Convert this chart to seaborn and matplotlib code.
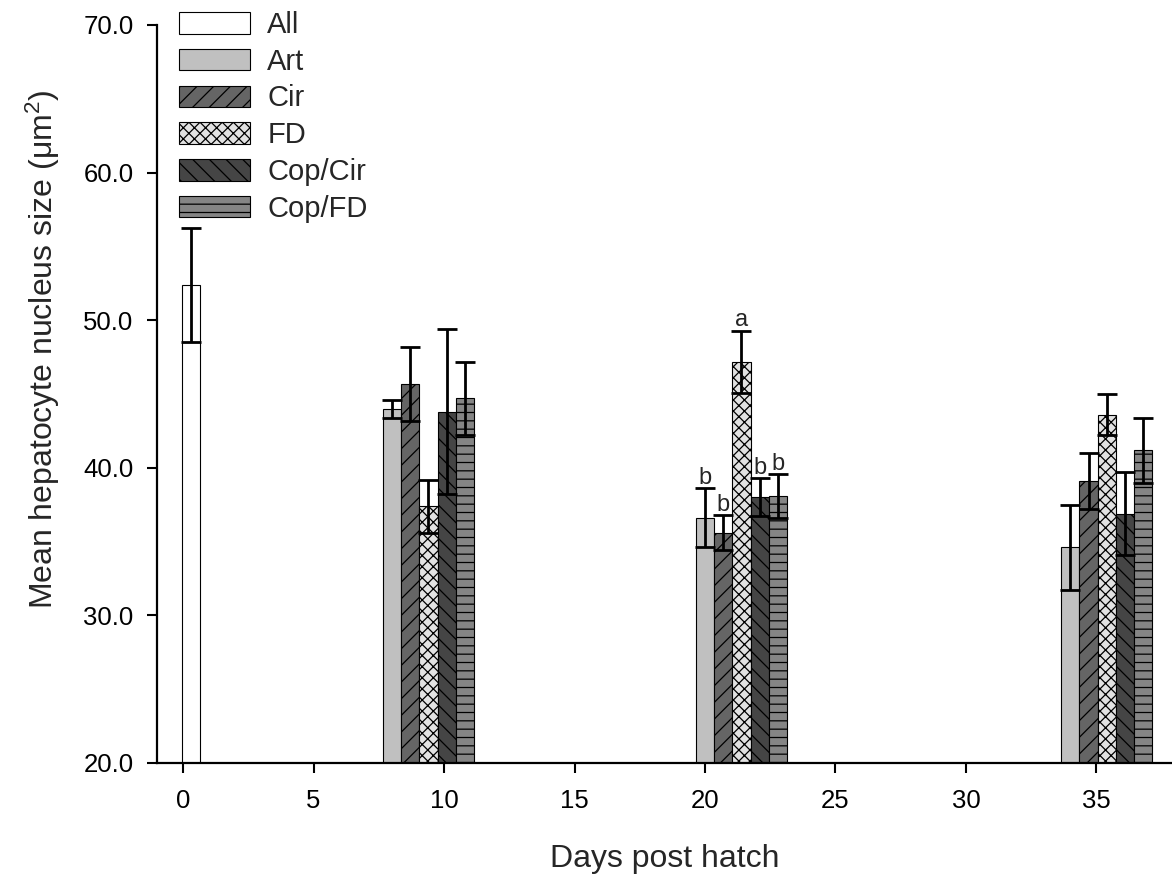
import numpy as np
import pandas as pd
import matplotlib
matplotlib.use("Agg")
import matplotlib.pyplot as plt
from matplotlib.patches import Patch
import seaborn as sns

# data, mean +/- SE
diets = ["All", "Art", "Cir", "FD", "Cop/Cir", "Cop/FD"]
group_days = [8, 20, 34]          # first bar of each sampling group
all_day = 0.3
all_mean = 52.4
all_se = 3.85
art_mean = [44.0, 36.6, 34.6]
art_se = [0.6, 2.0, 2.9]
cir_mean = [45.7, 35.6, 39.1]
cir_se = [2.5, 1.2, 1.9]
fd_mean = [37.4, 47.2, 43.6]
fd_se = [1.8, 2.1, 1.4]
copcir_mean = [43.8, 38.0, 36.9]
copcir_se = [5.6, 1.3, 2.8]
copfd_mean = [44.7, 38.1, 41.2]
copfd_se = [2.45, 1.5, 2.2]
day20_letters = ["b", "b", "a", "b", "b"]

colors = {"All": "white", "Art": "#c0c0c0", "Cir": "#656565", "FD": "#e2e2e2",
          "Cop/Cir": "#454545", "Cop/FD": "#858585"}
hatches = {"All": "", "Art": "", "Cir": "//", "FD": "xxx", "Cop/Cir": "\\\\", "Cop/FD": "--"}

step = 0.7
rows = [{"day": all_day, "diet": "All", "mean": all_mean, "se": all_se}]
series = {"Art": (art_mean, art_se), "Cir": (cir_mean, cir_se), "FD": (fd_mean, fd_se),
          "Cop/Cir": (copcir_mean, copcir_se), "Cop/FD": (copfd_mean, copfd_se)}
for k, d in enumerate(diets[1:]):
    m, s = series[d]
    for g, gd in enumerate(group_days):
        rows.append({"day": round(gd + k * step, 2), "diet": d, "mean": m[g], "se": s[g]})
df = pd.DataFrame(rows)

sns.set_style("ticks")
plt.rcParams["font.family"] = ["Liberation Sans", "DejaVu Sans"]
plt.rcParams["mathtext.fontset"] = "custom"
plt.rcParams["mathtext.rm"] = "Liberation Sans"
plt.rcParams["mathtext.it"] = "Liberation Sans:italic"
plt.rcParams["hatch.linewidth"] = 0.9
plt.rcParams["hatch.color"] = "black"

fig = plt.figure(figsize=(11.72, 8.77), dpi=100)
ax = fig.add_axes([0.134, 0.130, 0.866, 0.8415])

sns.barplot(data=df, x="day", y="mean", hue="diet", hue_order=diets, palette=colors,
            native_scale=True, dodge=False, width=1.0, errorbar=None,
            edgecolor="black", linewidth=0.8, legend=False, ax=ax)

for cont, d in zip(ax.containers, diets):
    for bar in cont:
        bar.set_hatch(hatches[d])

ax.errorbar(df["day"], df["mean"], yerr=df["se"], fmt="none", ecolor="black",
            elinewidth=2, capsize=7, capthick=2, zorder=5)

# significance letters at day 20
d20 = df[df["day"].between(19.5, 23.5)].sort_values("day")
for (_, r), lab in zip(d20.iterrows(), day20_letters):
    ax.annotate(lab, (r["day"], r["mean"] + r["se"]), xytext=(0, 3),
                textcoords="offset points", ha="center", va="baseline", fontsize=17)

ax.set_xlim(-1, 37.9)
ax.set_ylim(20, 70)
ax.set_xticks(np.arange(0, 40, 5))
ax.set_yticks(np.arange(20, 71, 10))
ax.set_yticklabels([f"{v:.1f}" for v in np.arange(20, 71, 10)])
ax.tick_params(axis="both", direction="out", length=7, width=1.5, labelsize=18.5, pad=10,
               color="black", labelcolor="black")
ax.tick_params(axis="x", pad=12)
for sp in ["top", "right"]:
    ax.spines[sp].set_visible(False)
for sp in ["left", "bottom"]:
    ax.spines[sp].set_linewidth(1.6)
    ax.spines[sp].set_color("black")

ax.set_xlabel("Days post hatch", fontsize=23, labelpad=22)
ax.set_ylabel("Mean hepatocyte nucleus size (μm$^{2}$)", fontsize=23)
ax.yaxis.set_label_coords(-0.094, 0.56)

handles = [Patch(facecolor=colors[d], edgecolor="black", hatch=hatches[d], linewidth=0.8)
           for d in diets]
ax.legend(handles, diets, loc="upper left", bbox_to_anchor=(179 / 1172, 1 - 11 / 877),
          bbox_transform=fig.transFigure, frameon=False, fontsize=21, borderpad=0,
          borderaxespad=0, handlelength=2.45, handleheight=0.75, handletextpad=0.58,
          labelspacing=0.3)

fig.savefig("out.png", dpi=100)
